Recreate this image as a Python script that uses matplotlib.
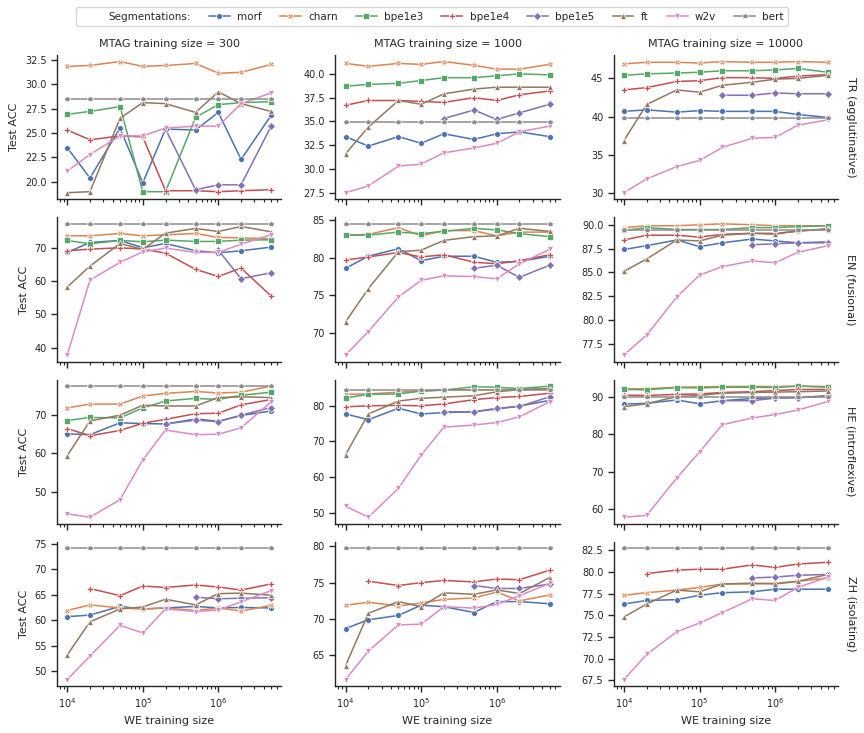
import numpy as np
import matplotlib
matplotlib.use("Agg")
import matplotlib.pyplot as plt
from matplotlib.lines import Line2D

nan = np.nan

# WE training sizes (x axis)
we_sizes = [1e4, 2e4, 5e4, 1e5, 2e5, 5e5, 1e6, 2e6, 5e6]

segmentations = ["morf", "charn", "bpe1e3", "bpe1e4", "bpe1e5", "ft", "w2v", "bert"]
colors = ["#4C72B0", "#DD8452", "#55A868", "#C44E52", "#8172B3", "#937860", "#DA8BC3", "#8C8C8C"]
markers = ["o", "X", "s", "P", "D", "^", "v", "p"]

mtag_sizes = [300, 1000, 10000]
languages = ["TR (agglutinative)", "EN (fusional)", "HE (introflexive)", "ZH (isolating)"]

# ---- TR ----
tr_300 = {
    "morf":   [23.5, 20.4, 25.5, 19.9, 25.4, 25.3, 27.1, 22.3, 26.8],
    "charn":  [31.8, 31.9, 32.3, 31.8, 31.9, 32.1, 31.1, 31.2, 32.0],
    "bpe1e3": [26.9, 27.2, 27.7, 19.0, 19.0, 26.6, 27.9, 28.1, 28.2],
    "bpe1e4": [25.3, 24.3, 24.7, 24.6, 19.1, 19.1, 19.0, 19.1, 19.2],
    "bpe1e5": [nan, nan, nan, nan, 25.4, 19.2, 19.7, 19.7, 25.7],
    "ft":     [18.9, 19.0, 26.5, 28.1, 28.0, 27.1, 29.2, 28.0, 27.2],
    "w2v":    [21.1, 22.8, 24.7, 24.7, 25.5, 25.7, 25.7, 28.0, 29.1],
    "bert":   [28.45] * 9,
}
tr_1000 = {
    "morf":   [33.4, 32.4, 33.4, 32.7, 33.7, 33.1, 33.7, 33.9, 33.4],
    "charn":  [41.1, 40.8, 41.1, 41.0, 41.3, 40.9, 40.5, 40.5, 41.0],
    "bpe1e3": [38.7, 38.9, 39.0, 39.3, 39.6, 39.6, 39.8, 40.0, 39.9],
    "bpe1e4": [36.7, 37.2, 37.2, 37.1, 37.0, 37.5, 37.2, 37.8, 38.2],
    "bpe1e5": [nan, nan, nan, nan, 35.3, 36.2, 35.2, 35.9, 36.8],
    "ft":     [31.6, 34.4, 37.2, 36.8, 37.9, 38.4, 38.6, 38.6, 38.6],
    "w2v":    [27.5, 28.2, 30.3, 30.5, 31.7, 32.2, 32.7, 33.9, 34.5],
    "bert":   [34.9] * 9,
}
tr_10000 = {
    "morf":   [40.7, 40.9, 40.6, 40.8, 40.7, 40.7, 40.7, 40.3, 39.9],
    "charn":  [46.9, 47.1, 47.1, 47.0, 47.2, 47.1, 47.1, 47.2, 47.1],
    "bpe1e3": [45.4, 45.6, 45.7, 45.8, 46.0, 46.0, 46.1, 46.3, 45.8],
    "bpe1e4": [43.5, 43.8, 44.6, 44.7, 45.1, 45.1, 45.0, 45.3, 45.5],
    "bpe1e5": [nan, nan, nan, nan, 42.8, 42.8, 43.1, 43.0, 43.0],
    "ft":     [36.9, 41.6, 43.5, 43.2, 44.1, 44.5, 44.9, 45.0, 45.4],
    "w2v":    [30.1, 31.9, 33.5, 34.3, 36.0, 37.2, 37.3, 38.9, 39.6],
    "bert":   [39.8] * 9,
}

# ---- EN ----
en_300 = {
    "morf":   [68.6, 71.6, 72.2, 70.0, 71.3, 69.1, 68.5, 69.1, 70.2],
    "charn":  [73.6, 73.6, 74.3, 73.6, 73.9, 74.3, 73.1, 73.0, 72.7],
    "bpe1e3": [72.2, 71.2, 72.2, 71.8, 72.3, 71.9, 71.9, 72.3, 72.4],
    "bpe1e4": [69.1, 69.6, 70.0, 69.6, 68.4, 63.5, 61.4, 63.9, 55.5],
    "bpe1e5": [nan, nan, nan, nan, nan, nan, 69.3, 60.7, 62.5],
    "ft":     [58.2, 64.5, 71.3, 69.5, 74.4, 75.8, 74.9, 76.4, 74.8],
    "w2v":    [37.8, 60.3, 65.6, 68.8, 69.9, 68.6, 68.6, 71.1, 73.9],
    "bert":   [77.2] * 9,
}
en_1000 = {
    "morf":   [78.6, 80.2, 81.2, 79.6, 80.2, 80.2, 79.4, 79.5, 80.2],
    "charn":  [83.0, 83.1, 84.0, 82.9, 83.6, 83.6, 82.9, 83.4, 83.4],
    "bpe1e3": [83.0, 83.0, 83.4, 83.2, 83.5, 83.9, 83.7, 83.2, 82.8],
    "bpe1e4": [79.7, 80.1, 80.7, 80.1, 80.4, 79.4, 79.2, 79.6, 80.4],
    "bpe1e5": [nan, nan, nan, nan, nan, 78.6, 79.0, 77.4, 79.0],
    "ft":     [71.5, 75.9, 80.8, 81.0, 82.3, 82.8, 82.9, 83.9, 83.5],
    "w2v":    [67.1, 70.2, 74.8, 77.0, 77.6, 77.5, 77.2, 79.2, 81.1],
    "bert":   [84.5] * 9,
}
en_10000 = {
    "morf":   [87.4, 87.8, 88.4, 87.7, 88.1, 88.5, 88.3, 88.1, 88.2],
    "charn":  [89.7, 89.9, 89.9, 90.0, 90.1, 90.0, 89.9, 89.9, 89.9],
    "bpe1e3": [89.4, 89.7, 89.5, 89.5, 89.5, 89.7, 89.7, 89.8, 89.9],
    "bpe1e4": [88.4, 88.9, 88.9, 88.7, 89.0, 89.1, 89.1, 89.3, 89.6],
    "bpe1e5": [nan, nan, nan, nan, nan, 87.9, 88.0, 88.1, 88.1],
    "ft":     [85.1, 86.4, 88.4, 88.3, 88.9, 89.1, 89.0, 89.4, 89.5],
    "w2v":    [76.3, 78.4, 82.4, 84.7, 85.6, 86.2, 86.0, 87.1, 87.8],
    "bert":   [89.4] * 9,
}

# ---- HE ----
he_300 = {
    "morf":   [65.1, 64.9, 68.0, 67.8, 67.7, 69.0, 68.4, 69.9, 71.1],
    "charn":  [71.9, 72.9, 72.9, 75.0, 75.7, 76.2, 75.8, 76.0, 77.6],
    "bpe1e3": [68.6, 69.4, 69.3, 71.9, 73.7, 74.4, 74.1, 75.2, 76.0],
    "bpe1e4": [66.5, 64.6, 66.0, 67.9, 68.9, 70.4, 70.5, 72.7, 74.1],
    "bpe1e5": [nan, nan, nan, nan, 67.7, 68.7, 68.3, 70.0, 72.0],
    "ft":     [59.4, 68.5, 70.0, 72.6, 72.4, 72.4, 74.6, 74.8, 74.6],
    "w2v":    [44.2, 43.3, 47.9, 58.3, 66.1, 64.9, 65.0, 66.7, 73.5],
    "bert":   [77.6] * 9,
}
he_1000 = {
    "morf":   [77.7, 76.1, 79.3, 77.7, 78.1, 78.3, 79.1, 79.9, 81.5],
    "charn":  [83.2, 83.3, 83.8, 84.1, 84.4, 84.5, 84.5, 84.6, 84.8],
    "bpe1e3": [82.2, 83.2, 83.3, 84.1, 84.4, 85.3, 85.2, 84.8, 85.5],
    "bpe1e4": [79.7, 80.0, 80.1, 80.0, 80.5, 81.7, 82.3, 82.6, 83.5],
    "bpe1e5": [nan, nan, nan, nan, 78.3, 78.3, 79.3, 79.8, 82.5],
    "ft":     [66.3, 77.7, 81.3, 82.1, 82.4, 82.8, 83.9, 84.5, 84.8],
    "w2v":    [51.9, 48.8, 56.9, 66.2, 74.0, 74.6, 75.3, 76.9, 81.1],
    "bert":   [84.5] * 9,
}
he_10000 = {
    "morf":   [88.1, 88.3, 89.2, 88.2, 89.0, 89.6, 89.8, 89.8, 90.2],
    "charn":  [92.2, 92.2, 92.6, 92.7, 92.8, 92.8, 92.8, 92.9, 92.8],
    "bpe1e3": [92.0, 91.9, 92.5, 92.4, 92.6, 92.6, 92.5, 92.9, 92.6],
    "bpe1e4": [90.5, 90.4, 90.7, 90.8, 91.2, 91.4, 91.7, 92.0, 92.0],
    "bpe1e5": [nan, nan, nan, nan, 89.0, 89.0, 89.7, 89.8, 90.4],
    "ft":     [87.4, 88.2, 90.1, 90.4, 91.0, 91.2, 91.3, 91.4, 91.6],
    "w2v":    [57.9, 58.4, 68.4, 75.3, 82.6, 84.4, 85.3, 86.5, 88.8],
    "bert":   [89.9] * 9,
}

# ---- ZH ----
zh_300 = {
    "morf":   [60.7, 61.0, 62.7, 62.2, 62.4, 62.7, 62.4, 62.5, 62.4],
    "charn":  [61.9, 63.0, 62.4, 62.2, 62.4, 61.9, 62.4, 61.8, 62.9],
    "bpe1e3": [nan] * 9,
    "bpe1e4": [nan, 66.2, 64.8, 66.7, 66.4, 66.9, 66.5, 65.9, 67.1],
    "bpe1e5": [nan, nan, nan, nan, nan, 64.5, 64.2, 64.3, 64.4],
    "ft":     [53.2, 59.7, 62.2, 62.6, 64.1, 63.0, 65.2, 65.3, 64.9],
    "w2v":    [48.4, 53.0, 59.0, 57.5, 62.2, 61.7, 62.0, 63.6, 65.8],
    "bert":   [74.05] * 9,
}
zh_1000 = {
    "morf":   [68.7, 69.9, 70.5, 71.9, 71.7, 70.9, 72.4, 72.4, 72.1],
    "charn":  [71.9, 72.3, 71.8, 72.2, 72.7, 72.9, 73.7, 72.5, 73.3],
    "bpe1e3": [nan] * 9,
    "bpe1e4": [nan, 75.2, 74.6, 75.0, 75.3, 75.1, 75.5, 75.4, 76.7],
    "bpe1e5": [nan, nan, nan, nan, nan, 74.6, 74.2, 74.2, 74.8],
    "ft":     [63.6, 70.8, 72.4, 71.7, 73.6, 73.4, 74.0, 73.5, 75.7],
    "w2v":    [61.7, 65.6, 69.2, 69.3, 71.7, 71.5, 72.0, 73.2, 74.9],
    "bert":   [79.7] * 9,
}
zh_10000 = {
    "morf":   [76.3, 76.7, 76.8, 77.3, 77.6, 77.7, 78.0, 78.0, 78.0],
    "charn":  [77.3, 77.6, 77.9, 78.2, 78.6, 78.6, 78.7, 78.9, 79.3],
    "bpe1e3": [nan] * 9,
    "bpe1e4": [nan, 79.8, 80.2, 80.3, 80.3, 80.8, 80.5, 80.9, 81.1],
    "bpe1e5": [nan, nan, nan, nan, nan, 79.3, 79.4, 79.6, 79.7],
    "ft":     [74.8, 76.3, 77.9, 77.7, 78.6, 78.7, 78.6, 78.9, 79.7],
    "w2v":    [67.6, 70.5, 73.1, 74.1, 75.3, 76.9, 76.7, 78.2, 79.4],
    "bert":   [82.7] * 9,
}

panels = [
    [tr_300, tr_1000, tr_10000],
    [en_300, en_1000, en_10000],
    [he_300, he_1000, he_10000],
    [zh_300, zh_1000, zh_10000],
]

ink = "#262626"
plt.rcParams.update({
    "font.family": "DejaVu Sans",
    "axes.edgecolor": ink,
    "axes.labelcolor": ink,
    "xtick.color": ink,
    "ytick.color": ink,
    "text.color": ink,
    "axes.linewidth": 1.0,
})

fig, axes = plt.subplots(4, 3, figsize=(8.64, 7.33), dpi=100, sharex=True)
fig.subplots_adjust(left=0.066, right=0.970, bottom=0.064, top=0.925,
                    wspace=0.241, hspace=0.125)

for r in range(4):
    for c in range(3):
        ax = axes[r, c]
        data = panels[r][c]
        for name, col, mk in zip(segmentations, colors, markers):
            ax.plot(we_sizes, data[name], color=col, marker=mk, lw=1.1,
                    ms=4.2, mec="white", mew=0.5)
        ax.set_xscale("log")
        ax.spines["top"].set_visible(False)
        ax.spines["right"].set_visible(False)
        ax.tick_params(axis="both", which="major", labelsize=7, length=4, width=1)
        ax.tick_params(axis="both", which="minor", length=2.5, width=0.8)
        if c == 0:
            ax.set_ylabel("Test ACC", fontsize=8)
        if r == 3:
            ax.set_xlabel("WE training size", fontsize=8)
        if r == 0:
            ax.set_title("MTAG training size = %d" % mtag_sizes[c], fontsize=8, pad=6)
        if c == 2:
            ax.text(1.035, 0.5, languages[r], rotation=270, va="center", ha="left",
                    fontsize=8, transform=ax.transAxes)

handles = [Line2D([], [], linestyle="none")]
labels = ["Segmentations:"]
for name, col, mk in zip(segmentations, colors, markers):
    handles.append(Line2D([], [], color=col, marker=mk, lw=1.1, ms=4.2,
                          mec="white", mew=0.5))
    labels.append(name)
fig.legend(handles, labels, loc="upper center", bbox_to_anchor=(0.5, 0.997),
           ncol=9, fontsize=7.5, frameon=True, handlelength=2.0, columnspacing=1.75,
           handletextpad=0.7, borderpad=0.4)

fig.savefig("out.png", dpi=100)
